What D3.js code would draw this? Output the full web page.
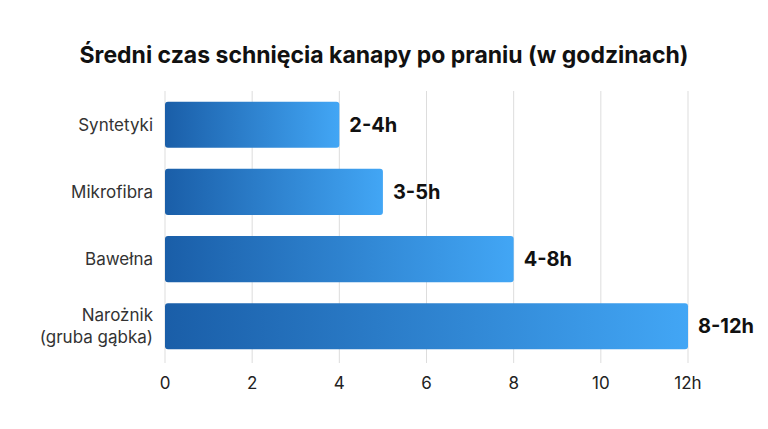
<!DOCTYPE html>
<html><head><meta charset="utf-8">
<script src="https://cdn.jsdelivr.net/npm/d3@7"></script>
<style>body{margin:0;background:#fff}</style></head>
<body><svg id="c" width="768" height="429"></svg>
<script>
const categories = ["Syntetyki","Mikrofibra","Bawełna","Narożnik\n(gruba gąbka)"];
const values = [4,5,8,12];
const labels = ["2-4h","3-5h","4-8h","8-12h"];
const ticks = [0,2,4,6,8,10,12];
const tickLabels = ["0","2","4","6","8","10","12h"];

const svg = d3.select("#c");
const F = "Inter, 'Open Sans', sans-serif";
const x = d3.scaleLinear().domain([0,12]).range([165,688]);
const y = d3.scaleBand().domain(categories).range([91,360]).paddingInner(0.313).paddingOuter(0.16);

const defs = svg.append("defs");
const g = defs.append("linearGradient").attr("id","gr").attr("x1","0").attr("x2","1");
g.append("stop").attr("offset","0").attr("stop-color","#1a5ea8");
g.append("stop").attr("offset","1").attr("stop-color","#42a6f5");

svg.append("text").attr("x",384).attr("y",63).attr("text-anchor","middle")
  .attr("font-family",F).attr("font-weight",700).attr("font-size",23).attr("fill","#111")
  .text("Średni czas schnięcia kanapy po praniu (w godzinach)");

svg.append("g").selectAll("line").data(ticks).join("line")
  .attr("x1",d=>x(d)).attr("x2",d=>x(d)).attr("y1",91).attr("y2",363)
  .attr("stroke","#ddd").attr("stroke-width",1);

svg.append("g").selectAll("rect").data(values).join("rect")
  .attr("x",x(0)).attr("y",(d,i)=>y(categories[i])).attr("height",y.bandwidth())
  .attr("width",d=>x(d)-x(0)).attr("rx",3).attr("fill","url(#gr)");

svg.append("g").selectAll("text").data(values).join("text")
  .attr("x",d=>x(d)+10).attr("y",(d,i)=>y(categories[i])+y.bandwidth()/2+7)
  .attr("font-family",F).attr("font-weight",700).attr("font-size",20).attr("fill","#111")
  .text((d,i)=>labels[i]);

const cl = svg.append("g").selectAll("text").data(categories).join("text")
  .attr("text-anchor","end").attr("font-family",F).attr("font-size",17).attr("fill","#333")
  .attr("y",d=>y(d)+y.bandwidth()/2);
cl.each(function(d){
  const lines = d.split("\n"); const t = d3.select(this);
  lines.forEach((l,j)=>t.append("tspan").attr("x",153)
    .attr("dy", j===0 ? (6-(lines.length-1)*11)+"px" : "22px").text(l));
});

svg.append("g").selectAll("text").data(ticks).join("text")
  .attr("x",d=>x(d)).attr("y",389).attr("text-anchor","middle")
  .attr("font-family",F).attr("font-size",17).attr("fill","#222")
  .text((d,i)=>tickLabels[i]);
</script></body></html>
